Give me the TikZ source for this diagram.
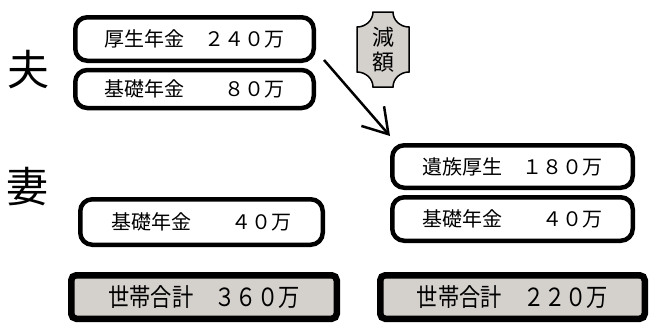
\documentclass[tikz,border=0pt]{standalone}
\usepackage{fontspec}
\setmainfont{Noto Sans CJK JP}
\newfontfamily\condensed[FakeStretch=0.85]{Noto Sans CJK JP}
\usetikzlibrary{arrows.meta}
\definecolor{boxgray}{RGB}{212,208,204}
\begin{document}
\begin{tikzpicture}[x=1pt,y=-1pt,
  pbox/.style={draw, line width=4.5pt, rounded corners=12pt, inner sep=0pt,
    font=\fontsize{20}{24}\selectfont},
  tbox/.style={draw, fill=boxgray, line width=6.5pt, rounded corners=5pt, inner sep=0pt,
    font=\condensed\fontsize{25}{28}\selectfont},
  who/.style={font=\fontsize{42}{46}\selectfont, inner sep=0pt},
  plaque/.style={draw, fill=boxgray, line width=1.5pt},
  arr/.style={line width=2.5pt, -{Straight Barb[length=24pt,width=30pt,line width=2.5pt]}}]
\useasboundingbox (0,0) rectangle (649,325);

% labels
\node[who] (otto) at (28,70) {夫};
\node[who] (tsuma) at (27,187) {妻};

% husband
\node[pbox, minimum width=238.5pt, minimum height=43.5pt] (b1) at (194.5,39) {厚生年金　２４０万};
\node[pbox, minimum width=238.5pt, minimum height=38pt] (b2) at (194.5,89) {基礎年金　　８０万};

% wife (left)
\node[pbox, minimum width=242.5pt, minimum height=45.5pt] (b3) at (201.5,222) {基礎年金　　４０万};

% right side
\node[pbox, minimum width=240.5pt, minimum height=42.5pt] (ba) at (512.5,166.5) {遺族厚生　１８０万};
\node[pbox, minimum width=240.5pt, minimum height=43.5pt] (bb) at (512.5,219) {基礎年金　　４０万};

% totals
\node[tbox, minimum width=265.5pt, minimum height=43.5pt] (tl) at (204,297) {世帯合計　３６０万};
\node[tbox, minimum width=264.5pt, minimum height=43.5pt] (tr) at (512.5,297) {世帯合計　２２０万};

% reduction plaque
\draw[plaque] (373,12) -- (393,12)
  .. controls (393,20.25) and (400.2,27) .. (409,27) -- (409,72)
  .. controls (400.2,72) and (393,78.75) .. (393,87) -- (373,87)
  .. controls (373,78.75) and (365.8,72) .. (357,72) -- (357,27)
  .. controls (365.8,27) and (373,20.25) .. (373,12) -- cycle;
\node[align=center, inner sep=0pt, font=\fontsize{22}{25}\selectfont] (gen) at (383,50) {減\\額};

% arrow
\draw[arr] ([xshift=8pt,yshift=3pt]b1.south east) -- ([yshift=7pt]ba.north west);
\end{tikzpicture}
\end{document}
